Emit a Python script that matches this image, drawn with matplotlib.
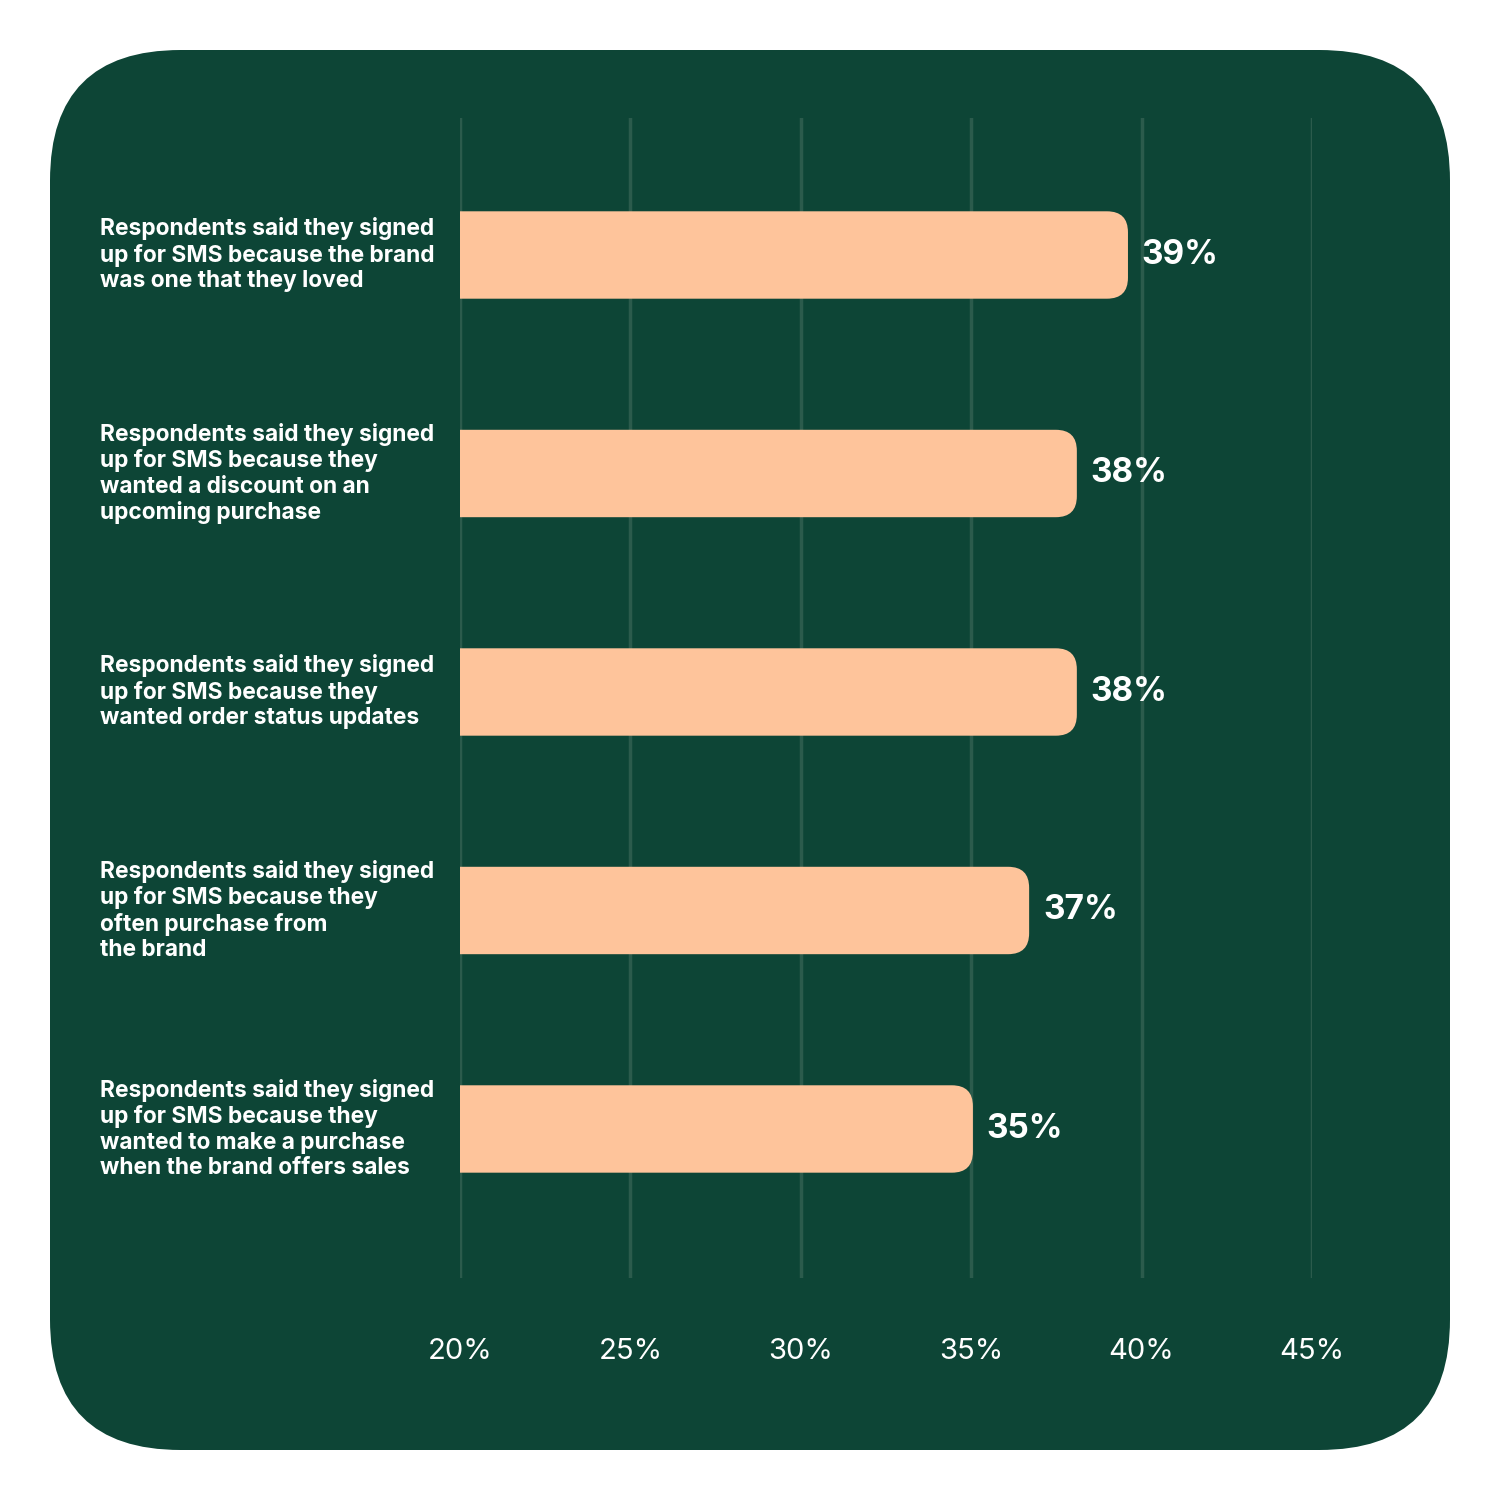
import matplotlib
matplotlib.use("Agg")
import matplotlib.pyplot as plt
import matplotlib.transforms as mtransforms
from matplotlib.patches import FancyBboxPatch

categories = [
    "Respondents said they signed\nup for SMS because the brand\nwas one that they loved",
    "Respondents said they signed\nup for SMS because they\nwanted a discount on an\nupcoming purchase",
    "Respondents said they signed\nup for SMS because they\nwanted order status updates",
    "Respondents said they signed\nup for SMS because they\noften purchase from\nthe brand",
    "Respondents said they signed\nup for SMS because they\nwanted to make a purchase\nwhen the brand offers sales",
]
values = [39.6, 38.1, 38.1, 36.7, 35.05]
value_labels = ["39%", "38%", "38%", "37%", "35%"]
xticks = [20, 25, 30, 35, 40, 45]
xtick_labels = ["20%", "25%", "30%", "35%", "40%", "45%"]

GREEN = "#0D4536"
PEACH = "#FEC49B"
GRID = "#2B5B4C"
FONT = "Inter"

fig = plt.figure(figsize=(15, 15), dpi=100)
fig.patch.set_facecolor("white")
bg = FancyBboxPatch((50/1500, 50/1500), 1400/1500, 1400/1500,
                    boxstyle="round,pad=0,rounding_size=0.087",
                    transform=fig.transFigure, facecolor=GREEN, edgecolor="none", zorder=-5)
fig.patches.append(bg)

ax = fig.add_axes([460/1500, 1 - 1278/1500, (1312-460)/1500, (1278-118)/1500], zorder=2)
ax.set_facecolor("none")
ax.set_xlim(20, 45)
ax.set_ylim(len(values) - 1 + 0.682, -0.627)
for s in ax.spines.values():
    s.set_visible(False)

for t in xticks:
    ax.axvline(t, color=GRID, lw=2.5, zorder=1)

bar_h = 0.4
px_per_x = (1312 - 460) / 25
px_per_y = 218.5
r_px = 21
aspect = (r_px / px_per_y) / (r_px / px_per_x)
for i, v in enumerate(values):
    p = FancyBboxPatch((18, i - bar_h/2), v - 18, bar_h,
                       boxstyle=f"round,pad=0,rounding_size={r_px/px_per_x}",
                       mutation_aspect=aspect,
                       facecolor=PEACH, edgecolor="none", zorder=3)
    ax.add_patch(p)
    ax.annotate(value_labels[i], (v, i), xytext=(10, 0), textcoords="offset points",
                ha="left", va="center", color="white", fontsize=24,
                fontweight="bold", family=FONT, zorder=4)

ax.set_yticks(range(len(values)))
ax.set_yticklabels([])
trans = mtransforms.blended_transform_factory(fig.transFigure, ax.transData)
for i, c in enumerate(categories):
    ax.text(100/1500, i, c, transform=trans, ha="left", va="center",
            color="white", fontsize=16.4, fontweight="bold", family=FONT,
            linespacing=1.2, clip_on=False)

ax.set_xticks(xticks)
ax.set_xticklabels(xtick_labels, color="white", fontsize=21, family=FONT)
ax.tick_params(axis="x", length=0, pad=43)
ax.tick_params(axis="y", length=0)

fig.savefig("out.png", dpi=100, facecolor="white")
